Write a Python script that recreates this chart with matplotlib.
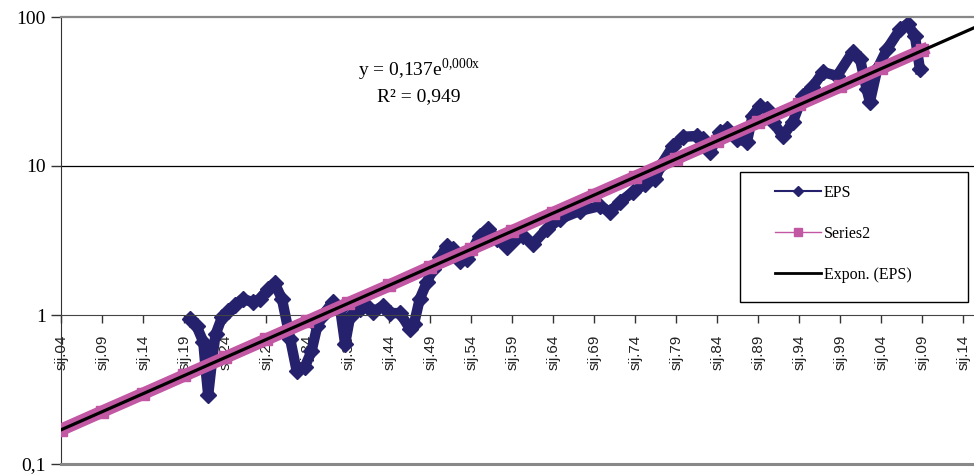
import matplotlib
matplotlib.use('Agg')
import matplotlib.pyplot as plt
from matplotlib.lines import Line2D
from matplotlib.patches import Rectangle

# EPS (log scale)
eps_years = [1919.7, 1920.5, 1921.3, 1921.6, 1921.9, 1922.4, 1922.8, 1923.6, 1924.3,
             1925.2, 1926.1, 1927.4, 1928.2, 1929.2, 1930.0, 1930.9, 1931.9, 1932.7,
             1933.7, 1934.5, 1935.2, 1935.9, 1937.1, 1938.0, 1938.6, 1939.2, 1940.4,
             1941.3, 1942.0, 1943.2, 1944.1, 1945.3, 1946.5, 1947.0, 1947.7, 1948.6,
             1949.3, 1950.2, 1951.0, 1951.7, 1952.6, 1953.5, 1955.0, 1956.0, 1957.1,
             1958.3, 1959.3, 1960.3, 1961.5, 1963.2, 1964.8, 1967.2, 1969.7, 1970.9,
             1972.1, 1973.7, 1975.2, 1976.4, 1977.2, 1978.6, 1979.8, 1981.5, 1982.2,
             1983.1, 1984.3, 1985.2, 1986.4, 1987.6, 1988.3, 1989.2, 1990.0, 1990.8,
             1992.0, 1993.2, 1994.4, 1995.6, 1996.9, 1998.6, 2000.5, 2001.4, 2002.2,
             2002.6, 2003.5, 2004.7, 2006.3, 2007.2, 2008.1, 2008.7]
eps_values = [0.94, 0.84, 0.66, 0.43, 0.29, 0.51, 0.74, 0.97, 1.06,
              1.17, 1.28, 1.22, 1.28, 1.49, 1.64, 1.28, 0.69, 0.42,
              0.45, 0.57, 0.84, 1.00, 1.22, 1.10, 0.64, 0.97, 1.10,
              1.15, 1.05, 1.15, 1.03, 1.03, 0.81, 0.87, 1.28, 1.67,
              2.03, 2.45, 2.90, 2.77, 2.30, 2.38, 3.39, 3.78, 3.24,
              2.86, 3.24, 3.39, 3.00, 3.78, 4.41, 4.99, 5.39, 4.91,
              5.73, 6.69, 7.57, 8.18, 10.3, 13.6, 15.7, 15.9, 15.2,
              12.4, 16.9, 17.7, 15.2, 14.5, 21.7, 25.3, 24.1, 19.7,
              15.9, 19.7, 29.5, 33.9, 42.7, 40.2, 58.2, 52.2, 32.9,
              26.9, 44.8, 61.0, 83.0, 89.7, 74.5, 44.8]

# Series2
s2_years = [1904, 1909, 1914, 1919, 1924, 1929, 1934, 1939, 1944, 1949, 1954,
            1959, 1964, 1969, 1974, 1979, 1984, 1989, 1994, 1999, 2004, 2009]
s2_values = [0.170, 0.225, 0.297, 0.393, 0.519, 0.686, 0.907, 1.20, 1.58, 2.10, 2.77,
             3.66, 4.85, 6.41, 8.47, 11.2, 14.8, 19.6, 25.9, 34.2, 45.3, 59.8]

# Expon. (EPS) trendline, forecast past the last point
trend_years = [1904, 2016]
trend_values = [0.170, 88.0]

tick_years = [1904, 1909, 1914, 1919, 1924, 1929, 1934, 1939, 1944, 1949, 1954, 1959,
              1964, 1969, 1974, 1979, 1984, 1989, 1994, 1999, 2004, 2009, 2014]
tick_labels = ['sij.04', 'sij.09', 'sij.14', 'sij.19', 'sij.24', 'sij.29', 'sij.34',
               'sij.39', 'sij.44', 'sij.49', 'sij.54', 'sij.59', 'sij.64', 'sij.69',
               'sij.74', 'sij.79', 'sij.84', 'sij.89', 'sij.94', 'sij.99', 'sij.04',
               'sij.09', 'sij.14']

EPS_COLOR = '#25216c'
S2_COLOR = '#c257a4'
SERIF = 'Liberation Serif'

plt.rcParams['mathtext.fontset'] = 'custom'
plt.rcParams['mathtext.rm'] = SERIF

fig = plt.figure(figsize=(9.74, 4.76), dpi=100)
ax = fig.add_axes([61 / 974, 12 / 476, 913 / 974, 447 / 476])

ax.plot(eps_years, eps_values, color=EPS_COLOR, lw=7.5, marker='D', ms=8,
        solid_joinstyle='round', zorder=2)
ax.plot(s2_years, s2_values, color=S2_COLOR, lw=9, marker='s', ms=8, zorder=3)
ax.plot(trend_years, trend_values, color='black', lw=2.3, zorder=4)

ax.set_yscale('log')
ax.set_ylim(0.1, 100)
ax.set_xlim(1903.95, 2015.3)

# x axis crosses at 1 (set before tick labels, it resets the ticks)
ax.spines['bottom'].set_position(('data', 1))
ax.spines['bottom'].set_color('#444444')
ax.spines['left'].set_color('#333333')
ax.spines['top'].set_color('#888888')
ax.spines['top'].set_linewidth(1.6)
ax.spines['right'].set_visible(False)

ax.set_yticks([0.1, 1, 10, 100])
ax.set_yticklabels(['0,1', '1', '10', '100'], fontfamily=SERIF, fontsize=14)
ax.minorticks_off()
ax.tick_params(axis='y', direction='out', length=7, width=1, color='#333333', pad=4)

ax.set_xticks(tick_years)
ax.set_xticklabels(tick_labels, rotation=90, fontfamily='Liberation Sans',
                   fontsize=11, color='#222222')
ax.tick_params(axis='x', direction='out', length=6, width=1, color='#333333', pad=8)

ax.axhline(10, color='black', lw=0.9, zorder=1)
ax.axhline(0.1, color='#888888', lw=2.2, zorder=5, clip_on=False)

fig.text(419 / 974, 1 - 70 / 476, r'y = 0,137e$^{\mathrm{0{,}000x}}$', ha='center',
         va='center', fontfamily=SERIF, fontsize=14)
fig.text(419 / 974, 1 - 97 / 476, 'R\u00b2 = 0,949', ha='center', va='center',
         fontfamily=SERIF, fontsize=14)

# legend box
fig.patches.append(Rectangle((740 / 974, 1 - 302 / 476), 228 / 974, 130 / 476,
                             transform=fig.transFigure, facecolor='white',
                             edgecolor='black', lw=1, zorder=6))
handles = [Line2D([], [], color=EPS_COLOR, lw=1.5, marker='D', ms=5),
           Line2D([], [], color=S2_COLOR, lw=1, marker='s', ms=6),
           Line2D([], [], color='black', lw=2)]
leg = fig.legend(handles, ['EPS', 'Series2', 'Expon. (EPS)'], loc='upper left',
                 bbox_to_anchor=(775 / 974, 1 - 185 / 476), frameon=False,
                 prop={'family': SERIF, 'size': 11.5}, handlelength=2.9,
                 handletextpad=0.15, labelspacing=1.55, borderpad=0, borderaxespad=0)
leg.set_zorder(7)

fig.savefig('out.png', dpi=100)
